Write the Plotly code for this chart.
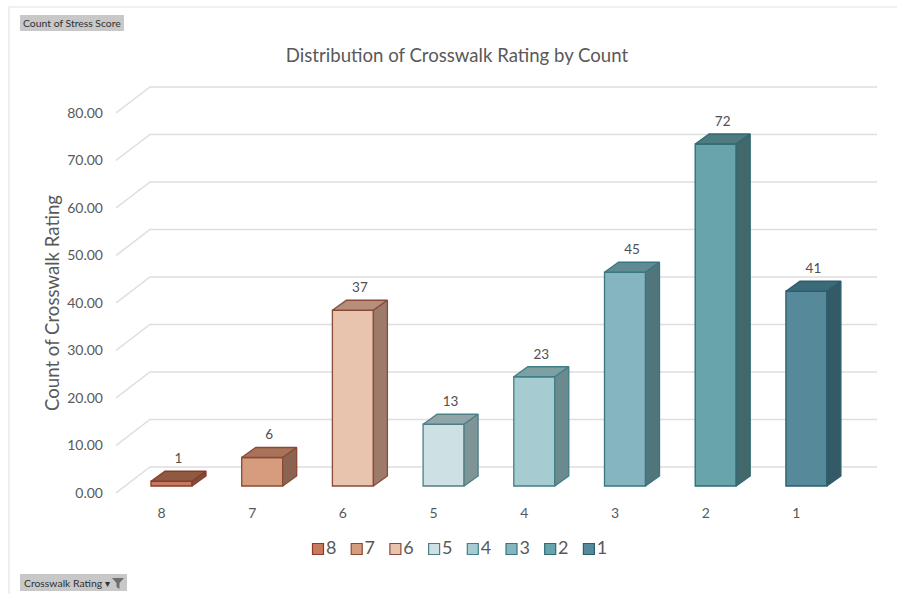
import plotly.graph_objects as go

# ---- data ----
categories = ["8", "7", "6", "5", "4", "3", "2", "1"]
counts = [1, 6, 37, 13, 23, 45, 72, 41]
y_ticks = [0, 10, 20, 30, 40, 50, 60, 70, 80]
y_tick_labels = ["0.00", "10.00", "20.00", "30.00", "40.00", "50.00", "60.00", "70.00", "80.00"]
front_colors = ["#C87A5E", "#D69C7E", "#E8C3AE", "#CDE0E3", "#A6CCD1", "#85B5BE", "#68A5AA", "#568A9B"]
top_colors = ["#8F5A42", "#A8735A", "#B58F7C", "#8FA5A8", "#7EA0A5", "#5F8C93", "#4D7B80", "#3D6A78"]
side_colors = ["#7D4D3A", "#8A6450", "#9C7B6B", "#7F9496", "#6A8A8E", "#50767C", "#43686B", "#335A66"]
edge_colors = ["#8A3B2A", "#8A4A35", "#8A4A3A", "#4D7F85", "#3F7F88", "#3A7580", "#2F6A75", "#2A5F6E"]

W, H = 897, 594
L, R, T, B = 116, 877, 80, 500      # main plot box, px
PB = 560                            # bottom of the margin box (legend strip below main box)
PX_X, PX_Y = 90.7, 4.75             # px per category / per count
X0_PX, Y0_PX = 171.5, 486           # first bar centre, zero line
x_of = lambda px: (px - X0_PX) / PX_X
y_of = lambda px: (Y0_PX - px) / PX_Y
fx = lambda px: (px - L) / (R - L)
fy = lambda py: (PB - py) / (PB - T)
BAR_W = 41 / PX_X
DX, DY = 14 / PX_X, 10 / PX_Y       # bar depth

fig = go.Figure()
xs = list(range(len(categories)))

for i, (cat, v) in enumerate(zip(categories, counts)):
    fig.add_trace(go.Bar(x=[i], y=[v], width=BAR_W, name=cat,
                         marker=dict(color=front_colors[i],
                                     line=dict(color=edge_colors[i], width=1.3)),
                         hoverinfo="skip", showlegend=False))

for i, v in enumerate(counts):
    l, r = i - BAR_W / 2, i + BAR_W / 2
    fig.add_trace(go.Scatter(x=[l, r, r + DX, l + DX, l], y=[v, v, v + DY, v + DY, v],
                             mode="lines", fill="toself", fillcolor=top_colors[i],
                             line=dict(color=edge_colors[i], width=1.3),
                             showlegend=False, hoverinfo="skip"))
    fig.add_trace(go.Scatter(x=[r, r + DX, r + DX, r, r], y=[0, DY, v + DY, v, 0],
                             mode="lines", fill="toself", fillcolor=side_colors[i],
                             line=dict(color=edge_colors[i], width=1.3),
                             showlegend=False, hoverinfo="skip"))

fig.add_trace(go.Scatter(x=[i + DX / 2 for i in xs], y=[v + DY + 1.0 for v in counts],
                         mode="text", text=[str(v) for v in counts],
                         textposition="top center",
                         textfont=dict(family="Lato", size=13.5, color="#505050"),
                         showlegend=False, hoverinfo="skip"))

# legend row on its own hidden axes in the strip below the plot
fig.add_trace(go.Scatter(x=[x_of(318 + 38.7 * i) for i in xs], y=[0.5] * len(xs),
                         xaxis="x2", yaxis="y2",
                         mode="markers+text", text=categories, textposition="middle right",
                         marker=dict(symbol="square", size=11, color=front_colors,
                                     line=dict(color=edge_colors, width=1.2)),
                         textfont=dict(family="Lato", size=18, color="#595959"),
                         cliponaxis=False, showlegend=False, hoverinfo="skip"))

shapes = []
for t in y_ticks:
    ax, bx, cx = x_of(116), x_of(150), x_of(877)
    y_front, y_back = y_of(493) + t, y_of(467) + t
    shapes.append(dict(type="path", layer="below", xref="x", yref="y",
                       path=f"M {ax} {y_front} L {bx} {y_back} L {cx} {y_back}",
                       line=dict(color="#DEDEDE", width=1.5)))
# chart border and pivot-button funnel
shapes.append(dict(type="path", xref="paper", yref="paper", layer="below",
                   path=f"M {fx(9)} {fy(594)} L {fx(9)} {fy(7)} L {fx(897)} {fy(7)}",
                   line=dict(color="#E4E4E4", width=1.2)))
shapes.append(dict(type="rect", xref="paper", yref="paper", x0=fx(20), x1=fx(127), y0=fy(591), y1=fy(574),
                   fillcolor="#C8C8C8", line=dict(width=0), layer="below"))
shapes.append(dict(type="rect", xref="paper", yref="paper", x0=fx(20), x1=fx(124), y0=fy(31), y1=fy(15),
                   fillcolor="#C8C8C8", line=dict(width=0), layer="below"))
shapes.append(dict(type="path", xref="paper", yref="paper",
                   path=f"M {fx(112)} {fy(578)} L {fx(124)} {fy(578)} L {fx(119.5)} {fy(583)} L {fx(119.5)} {fy(589)} L {fx(116.5)} {fy(587)} L {fx(116.5)} {fy(583)} Z",
                   fillcolor="#6E6E6E", line=dict(width=0)))

annotations = [
    dict(text="Count of Stress Score", xref="paper", yref="paper", x=fx(72), y=fy(23),
         xanchor="center", yanchor="middle", showarrow=False,
         font=dict(family="Lato", size=10.4, color="#303030")),
    dict(text="Crosswalk Rating ▾", xref="paper", yref="paper", x=fx(22), y=fy(582.5),
         xanchor="left", yanchor="middle", showarrow=False,
         font=dict(family="Lato", size=10.4, color="#303030")),
    dict(text="Count of Crosswalk Rating", xref="paper", yref="paper", x=fx(52), y=fy(303),
         xanchor="center", yanchor="middle", showarrow=False, textangle=-90,
         font=dict(family="Lato", size=18.6, color="#595959")),
]

fig.update_layout(
    width=W, height=H, autosize=False, barmode="overlay", showlegend=False,
    margin=dict(l=L, r=W - R, t=T, b=H - PB, pad=0),
    paper_bgcolor="white", plot_bgcolor="rgba(0,0,0,0)",
    title=dict(text="Distribution of Crosswalk Rating by Count", x=457 / W, xanchor="center",
               y=1 - 55 / H, yanchor="middle", font=dict(family="Lato", size=18.6, color="#595959")),
    xaxis=dict(range=[x_of(L), x_of(R)], tickmode="array", tickvals=xs, ticktext=categories,
               showgrid=False, zeroline=False, showline=False, ticks="", ticklabelshift=-10,
               ticklabelstandoff=3, tickfont=dict(family="Lato", size=14, color="#595959")),
    yaxis=dict(domain=[fy(B), 1], range=[y_of(B), y_of(T)], tickmode="array", tickvals=y_ticks,
               ticktext=y_tick_labels, showgrid=False, zeroline=False, showline=False, ticks="",
               ticklabelshift=7, ticklabelstandoff=12,
               tickfont=dict(family="Lato", size=14, color="#595959")),
    xaxis2=dict(domain=[0, 1], anchor="y2", range=[x_of(L), x_of(R)], visible=False),
    yaxis2=dict(domain=[fy(560), fy(538)], anchor="x2", range=[0, 1], visible=False),
    shapes=shapes, annotations=annotations,
)

fig.write_html("out.html", config={"displayModeBar": False},
               post_script="document.body.style.margin='0';")
